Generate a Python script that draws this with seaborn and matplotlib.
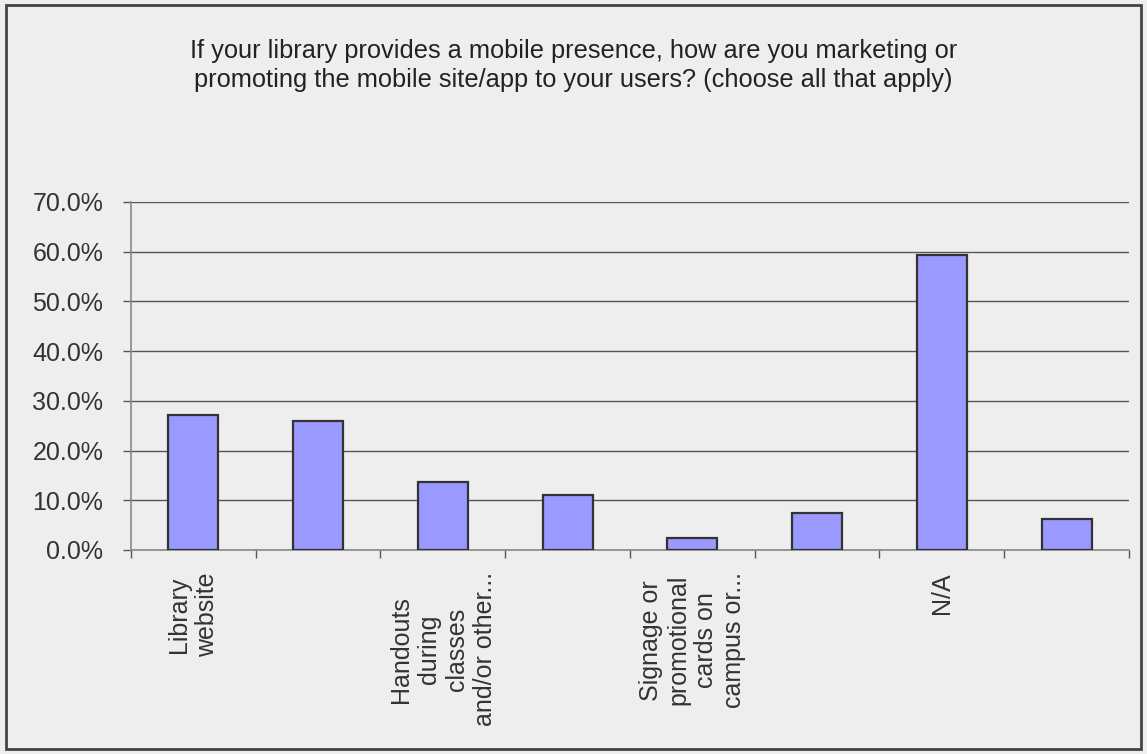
import matplotlib
matplotlib.use("Agg")
import matplotlib.pyplot as plt
import matplotlib.patches as mpatches
import matplotlib.ticker as mticker
import seaborn as sns
import pandas as pd

# Survey responses (share of respondents), one bar per answer option
positions = [0, 1, 2, 3, 4, 5, 6, 7]
tick_labels = [
    "Library\nwebsite",
    "",
    "Handouts\nduring\nclasses\nand/or other...",
    "",
    "Signage or\npromotional\ncards on\ncampus or...",
    "",
    "N/A",
    "",
]
shares = [27.2, 26.0, 13.6, 11.1, 2.5, 7.4, 59.3, 6.2]

title_text = ("If your library provides a mobile presence, how are you marketing or\n"
              "promoting the mobile site/app to your users? (choose all that apply)")

sns.set_theme(style="white")
plt.rcParams["font.family"] = ["Liberation Sans", "DejaVu Sans"]

bg = "#EEEEEE"
fig = plt.figure(figsize=(11.47, 7.54), dpi=100, facecolor=bg)
ax = fig.add_axes([0.1142, 0.2706, 0.8701, 0.4615])
ax.set_facecolor(bg)

df = pd.DataFrame({"pos": positions, "share": shares})
sns.barplot(data=df, x="pos", y="share", order=positions, color="#9999FF",
            saturation=1, width=0.4, edgecolor="#333333", linewidth=1.6, ax=ax, zorder=3)

ax.set_ylim(0, 70)
ax.set_xlim(-0.5, 7.5)
ax.yaxis.set_major_locator(mticker.MultipleLocator(10))
ax.yaxis.set_major_formatter(mticker.FuncFormatter(lambda v, _: f"{v:.1f}%"))
ax.grid(axis="y", color="#555555", linewidth=1.0, zorder=0)
ax.set_axisbelow(True)

for side in ("top", "right"):
    ax.spines[side].set_visible(False)
for side in ("left", "bottom"):
    ax.spines[side].set_color("#888888")
    ax.spines[side].set_linewidth(1.2)

ax.tick_params(axis="y", which="major", left=True, length=6, width=1.0, color="#555555",
               pad=14, labelsize=18, labelcolor="#333333")

# Category labels at bar centres, tick marks on the category boundaries
ax.set_xticks(positions)
ax.set_xticklabels(tick_labels, rotation=90, ha="center", va="top",
                   multialignment="center", fontsize=18, color="#333333", linespacing=1.2)
ax.tick_params(axis="x", which="major", length=0, pad=16)
ax.set_xticks([p - 0.5 for p in positions] + [7.5], minor=True)
ax.tick_params(axis="x", which="minor", bottom=True, length=6, width=1.0, color="#555555")

ax.set_xlabel("")
ax.set_ylabel("")

fig.text(0.5, 0.913, title_text, ha="center", va="center", fontsize=18.3,
         color="#222222", linespacing=1.3)

# Chart-area frame
fig.patches.append(mpatches.Rectangle((0.005, 0.007), 0.99, 0.986, transform=fig.transFigure,
                                      fill=False, edgecolor="#444444", linewidth=2.0))

fig.savefig("out.png", dpi=100, facecolor=bg)
